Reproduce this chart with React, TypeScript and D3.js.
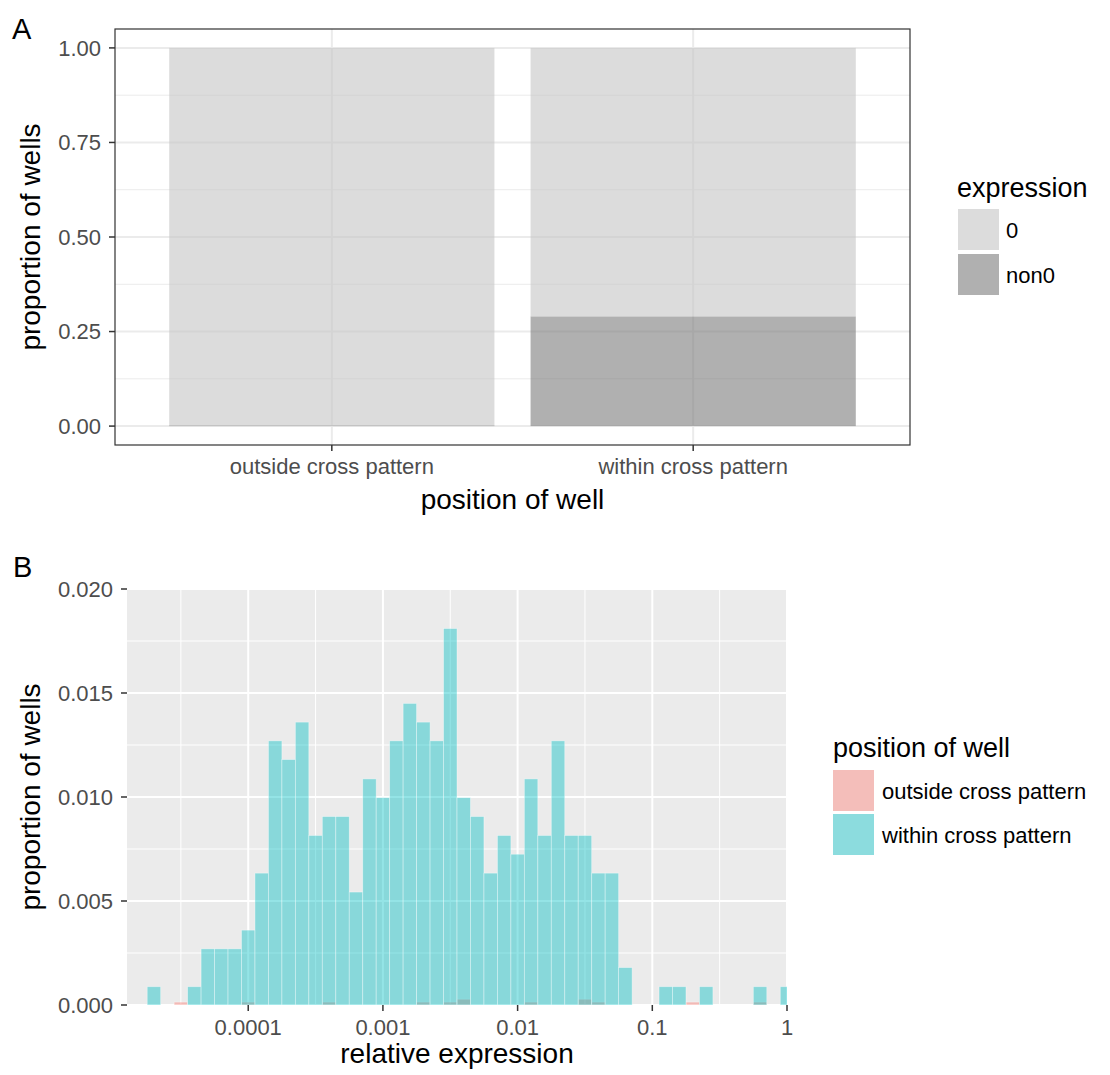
import React from "react";
import * as d3 from "d3";

// ---------- Panel A data ----------
const positionCategories = ["outside cross pattern", "within cross pattern"];
const expressionLevels = ["0", "non0"];
const propZero = [0.9982, 0.71];
const propNonZero = [0.0018, 0.29];
const yTicksA = [0, 0.25, 0.5, 0.75, 1.0];
const yTickLabelsA = ["0.00", "0.25", "0.50", "0.75", "1.00"];

// ---------- Panel B data ----------
const binLog10 = [
  -4.7, -4.6, -4.5, -4.4, -4.3, -4.2, -4.1, -4.0, -3.9, -3.8, -3.7, -3.6,
  -3.5, -3.4, -3.3, -3.2, -3.1, -3.0, -2.9, -2.8, -2.7, -2.6, -2.5, -2.4,
  -2.3, -2.2, -2.1, -2.0, -1.9, -1.8, -1.7, -1.6, -1.5, -1.4, -1.3, -1.2,
  -1.1, -1.0, -0.9, -0.8, -0.7, -0.6, -0.5, -0.4, -0.3, -0.2, -0.1, 0.0,
];
const withinValues = [
  0.00088, 0, 0, 0.00088, 0.0027, 0.0027, 0.0027, 0.0036, 0.00634, 0.0127, 0.0118, 0.0136,
  0.00815, 0.00906, 0.00906, 0.00543, 0.01087, 0.00997, 0.0127, 0.0145, 0.0136, 0.0127, 0.0181, 0.00997,
  0.00906, 0.00634, 0.00815, 0.00725, 0.01087, 0.00815, 0.0127, 0.00815, 0.00815, 0.00634, 0.00634, 0.0018,
  0, 0, 0.00088, 0.00088, 0, 0.00088, 0, 0, 0, 0.00088, 0, 0.00088,
];
const outsideValues = [
  0, 0, 0.00014, 0, 0, 0, 0, 0.00014, 0, 0, 0, 0,
  0, 0.00014, 0, 0, 0, 0, 0, 0, 0.00014, 0, 0.00014, 0.00028,
  0, 0, 0, 0, 0.00014, 0, 0, 0, 0.00028, 0.00014, 0, 0,
  0, 0, 0, 0, 0.00014, 0, 0, 0, 0, 0.00014, 0, 0,
];
const xTicksB = [0.0001, 0.001, 0.01, 0.1, 1];
const xTickLabelsB = ["0.0001", "0.001", "0.01", "0.1", "1"];
const xMinorB = [-4.5, -3.5, -2.5, -1.5, -0.5];
const yTicksB = [0, 0.005, 0.01, 0.015, 0.02];
const yTickLabelsB = ["0.000", "0.005", "0.010", "0.015", "0.020"];
const yMinorB = [0.0025, 0.0075, 0.0125, 0.0175];
const groupNames = ["outside cross pattern", "within cross pattern"];
const groupColors = ["#F8766D", "#00BFC4"];

const FONT = "'Liberation Sans', Arial, Helvetica, sans-serif";

export default function App() {
  // Panel A geometry
  const aL = 115, aR = 910, aT = 29, aB = 445;
  const unitA = (aR - aL) / 2.2;
  const xA = d3.scaleLinear().domain([0.4, 2.6]).range([aL, aR]);
  const centerA = (i: number) => xA(i + 1);
  const barWA = 0.9 * unitA;
  const yA = d3.scaleLinear().domain([-0.05, 1.05]).range([aB, aT]);
  const yMinorA = [0.125, 0.375, 0.625, 0.875];
  const fillA = ["#C5C5C5", "#7B7B7B"];

  // Panel B geometry
  const bL = 127, bR = 787, bT = 589, bB = 1005;
  const xB = d3.scaleLinear().domain([-4.9, 0]).range([bL, bR]);
  const yB = d3.scaleLinear().domain([0, 0.02]).range([bB, bT]);
  const binW = 0.1;
  const alphaB = 0.42;

  const tickColor = "#333333";
  const labelColor = "#4D4D4D";

  return (
    <svg width={1110} height={1075} style={{ position: "absolute", left: 0, top: 0, background: "white" }} fontFamily={FONT}>
      <defs>
        <clipPath id="clipB">
          <rect x={bL} y={bT} width={bR - bL} height={bB - bT} />
        </clipPath>
      </defs>

      {/* ---------------- Panel A ---------------- */}
      <text x={12} y={39} fontSize={29} fill="black">A</text>
      <rect x={aL} y={aT} width={aR - aL} height={aB - aT} fill="white" />
      {yMinorA.map((v) => (
        <line key={"amn" + v} x1={aL} x2={aR} y1={yA(v)} y2={yA(v)} stroke="#EBEBEB" strokeWidth={1} />
      ))}
      {yTicksA.map((v) => (
        <line key={"amj" + v} x1={aL} x2={aR} y1={yA(v)} y2={yA(v)} stroke="#EBEBEB" strokeWidth={2} />
      ))}
      {positionCategories.map((c, i) => (
        <line key={"av" + c} x1={centerA(i)} x2={centerA(i)} y1={aT} y2={aB} stroke="#EBEBEB" strokeWidth={2} />
      ))}
      {positionCategories.map((c, i) => {
        const x0 = centerA(i) - barWA / 2;
        const nz = propNonZero[i];
        const z = propZero[i];
        return (
          <g key={"abar" + c}>
            {nz > 0 && (
              <rect x={x0} width={barWA} y={yA(nz)} height={yA(0) - yA(nz)} fill={fillA[1]} fillOpacity={0.6} />
            )}
            <rect x={x0} width={barWA} y={yA(nz + z)} height={yA(nz) - yA(nz + z)} fill={fillA[0]} fillOpacity={0.6} />
          </g>
        );
      })}
      <rect x={aL} y={aT} width={aR - aL} height={aB - aT} fill="none" stroke="#333333" strokeWidth={1.2} />
      {yTicksA.map((v, i) => (
        <g key={"ayt" + v}>
          <line x1={aL - 6} x2={aL} y1={yA(v)} y2={yA(v)} stroke={tickColor} strokeWidth={1.5} />
          <text x={aL - 14} y={yA(v)} dy="0.35em" textAnchor="end" fontSize={22} fill={labelColor}>
            {yTickLabelsA[i]}
          </text>
        </g>
      ))}
      {positionCategories.map((c, i) => (
        <g key={"axt" + c}>
          <line x1={centerA(i)} x2={centerA(i)} y1={aB} y2={aB + 6} stroke={tickColor} strokeWidth={1.5} />
          <text x={centerA(i)} y={474} textAnchor="middle" fontSize={22} fill={labelColor}>{c}</text>
        </g>
      ))}
      <text x={(aL + aR) / 2} y={509} textAnchor="middle" fontSize={28} fill="black">position of well</text>
      <text transform={`translate(40, ${(aT + aB) / 2}) rotate(-90)`} textAnchor="middle" fontSize={28} fill="black">
        proportion of wells
      </text>

      {/* Legend A */}
      <text x={957} y={197} fontSize={27} fill="black">expression</text>
      {expressionLevels.map((lv, i) => (
        <g key={"la" + lv}>
          <rect x={958} y={209 + i * 45} width={41} height={41} fill="white" />
          <rect x={958} y={209 + i * 45} width={41} height={41} fill={fillA[i]} fillOpacity={0.6} />
          <text x={1006} y={230 + i * 45} dy="0.35em" fontSize={22} fill="black">{lv}</text>
        </g>
      ))}

      {/* ---------------- Panel B ---------------- */}
      <text x={13} y={577} fontSize={29} fill="black">B</text>
      <rect x={bL} y={bT} width={bR - bL} height={bB - bT} fill="#EBEBEB" />
      <g clipPath="url(#clipB)">
        {yMinorB.map((v) => (
          <line key={"bmn" + v} x1={bL} x2={bR} y1={yB(v)} y2={yB(v)} stroke="white" strokeWidth={1} />
        ))}
        {xMinorB.map((v) => (
          <line key={"bxmn" + v} x1={xB(v)} x2={xB(v)} y1={bT} y2={bB} stroke="white" strokeWidth={1} />
        ))}
        {yTicksB.map((v) => (
          <line key={"bmj" + v} x1={bL} x2={bR} y1={yB(v)} y2={yB(v)} stroke="white" strokeWidth={2} />
        ))}
        {xTicksB.map((v) => (
          <line key={"bxmj" + v} x1={xB(Math.log10(v))} x2={xB(Math.log10(v))} y1={bT} y2={bB} stroke="white" strokeWidth={2} />
        ))}
        {binLog10.map((c, i) =>
          outsideValues[i] > 0 ? (
            <rect
              key={"ob" + i}
              x={xB(c - binW / 2)}
              width={xB(c + binW / 2) - xB(c - binW / 2)}
              y={yB(outsideValues[i])}
              height={yB(0) - yB(outsideValues[i])}
              fill={groupColors[0]}
              fillOpacity={alphaB}
              stroke="white"
              strokeOpacity={0.45}
              strokeWidth={0.8}
            />
          ) : null
        )}
        {binLog10.map((c, i) =>
          withinValues[i] > 0 ? (
            <rect
              key={"wb" + i}
              x={xB(c - binW / 2)}
              width={xB(c + binW / 2) - xB(c - binW / 2)}
              y={yB(withinValues[i])}
              height={yB(0) - yB(withinValues[i])}
              fill={groupColors[1]}
              fillOpacity={alphaB}
              stroke="white"
              strokeOpacity={0.45}
              strokeWidth={0.8}
            />
          ) : null
        )}
      </g>
      {yTicksB.map((v, i) => (
        <g key={"byt" + v}>
          <line x1={bL - 6} x2={bL} y1={yB(v)} y2={yB(v)} stroke={tickColor} strokeWidth={1.5} />
          <text x={bL - 14} y={yB(v)} dy="0.35em" textAnchor="end" fontSize={22} fill={labelColor}>
            {yTickLabelsB[i]}
          </text>
        </g>
      ))}
      {xTicksB.map((v, i) => (
        <g key={"bxt" + v}>
          <line x1={xB(Math.log10(v))} x2={xB(Math.log10(v))} y1={bB} y2={bB + 6} stroke={tickColor} strokeWidth={1.5} />
          <text x={xB(Math.log10(v))} y={1035} textAnchor="middle" fontSize={22} fill={labelColor}>
            {xTickLabelsB[i]}
          </text>
        </g>
      ))}
      <text x={(bL + bR) / 2} y={1063} textAnchor="middle" fontSize={28} fill="black">relative expression</text>
      <text transform={`translate(40, ${(bT + bB) / 2}) rotate(-90)`} textAnchor="middle" fontSize={28} fill="black">
        proportion of wells
      </text>

      {/* Legend B */}
      <text x={833} y={757} fontSize={27} fill="black">position of well</text>
      {groupNames.map((g, i) => (
        <g key={"lb" + g}>
          <rect x={833} y={770 + i * 44} width={41} height={41} fill="#F2F2F2" />
          <rect x={833} y={770 + i * 44} width={41} height={41} fill={groupColors[i]} fillOpacity={alphaB} />
          <text x={882} y={791 + i * 44} dy="0.35em" fontSize={22} fill="black">{g}</text>
        </g>
      ))}
    </svg>
  );
}
